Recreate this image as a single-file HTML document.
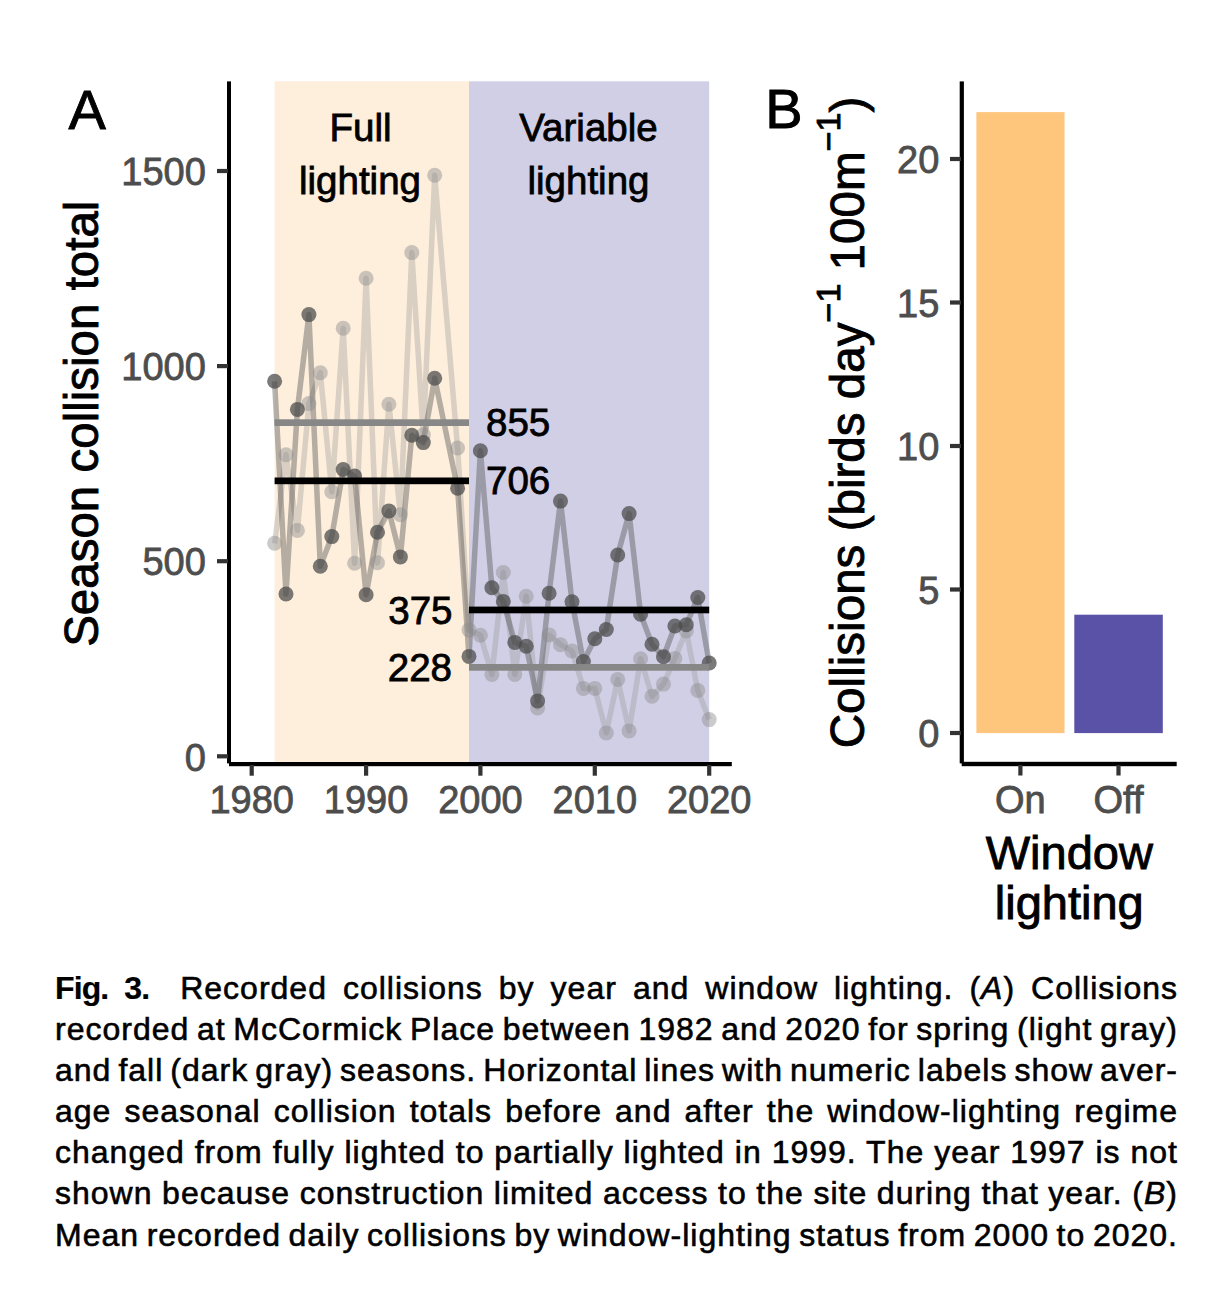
<!DOCTYPE html>
<html><head><meta charset="utf-8"><style>
html,body{margin:0;padding:0;background:#fff;width:1228px;height:1306px;overflow:hidden;}
svg{position:absolute;left:0;top:0;}
text{font-family:"Liberation Sans",sans-serif;}
.tk{font-size:38px;fill:#4D4D4D;stroke:#4D4D4D;stroke-width:0.8px;}
.lb{font-size:38.5px;fill:#000;stroke:#000;stroke-width:0.8px;}
.tag{font-size:56px;fill:#000;stroke:#000;stroke-width:0.9px;}
.ttl{font-size:47px;fill:#000;stroke:#000;stroke-width:0.9px;}
.sup{font-size:34px;}
.cl{position:absolute;left:55px;width:1123px;height:36px;font-family:"Liberation Sans",sans-serif;font-size:32px;line-height:36px;letter-spacing:1px;word-spacing:-4px;-webkit-text-stroke:0.6px #000;color:#000;text-align:justify;text-align-last:justify;white-space:nowrap;}
</style></head><body>
<svg width="1228" height="960" viewBox="0 0 1228 960">
<rect x="274.6" y="81.3" width="194.4" height="682.7" fill="#FEEEDC"/>
<rect x="469.0" y="81.3" width="240.2" height="682.7" fill="#D1CFE6"/>
<polyline points="274.6,543.3 286.0,454.7 297.4,530.4 308.9,403.6 320.3,372.7 331.8,491.7 343.2,328.3 354.6,563.2 366.1,278.3 377.5,562.8 388.9,404.3 400.4,514.8 411.8,252.6 423.3,434.8 434.7,175.3 457.6,448.0 469.0,629.9 480.4,635.3 491.9,674.4 503.3,572.5 514.8,674.4 526.2,596.3 537.6,707.9 549.1,634.9 560.5,644.7 572.0,650.9 583.4,688.4 594.8,688.4 606.3,732.9 617.7,679.4 629.1,730.9 640.6,658.8 652.0,696.2 663.5,684.1 674.9,658.4 686.3,631.0 697.8,690.4 709.2,719.6" fill="none" stroke="rgba(150,150,150,0.35)" stroke-width="5.5" stroke-linejoin="round"/>
<polyline points="274.6,381.3 286.0,594.0 297.4,409.4 308.9,314.6 320.3,566.3 331.8,536.6 343.2,469.5 354.6,476.1 366.1,594.8 377.5,532.3 388.9,510.9 400.4,556.9 411.8,435.2 423.3,442.6 434.7,378.2 457.6,488.2 469.0,656.4 480.4,450.8 491.9,587.7 503.3,601.4 514.8,642.4 526.2,646.3 537.6,700.9 549.1,593.2 560.5,501.1 572.0,601.8 583.4,661.5 594.8,638.8 606.3,629.5 617.7,555.0 629.1,513.6 640.6,614.3 652.0,644.3 663.5,656.8 674.9,626.0 686.3,624.8 697.8,597.5 709.2,663.0" fill="none" stroke="rgba(80,80,80,0.42)" stroke-width="5.5" stroke-linejoin="round"/>
<circle cx="274.6" cy="543.3" r="7.5" fill="rgba(140,140,140,0.45)"/>
<circle cx="286.0" cy="454.7" r="7.5" fill="rgba(140,140,140,0.45)"/>
<circle cx="297.4" cy="530.4" r="7.5" fill="rgba(140,140,140,0.45)"/>
<circle cx="308.9" cy="403.6" r="7.5" fill="rgba(140,140,140,0.45)"/>
<circle cx="320.3" cy="372.7" r="7.5" fill="rgba(140,140,140,0.45)"/>
<circle cx="331.8" cy="491.7" r="7.5" fill="rgba(140,140,140,0.45)"/>
<circle cx="343.2" cy="328.3" r="7.5" fill="rgba(140,140,140,0.45)"/>
<circle cx="354.6" cy="563.2" r="7.5" fill="rgba(140,140,140,0.45)"/>
<circle cx="366.1" cy="278.3" r="7.5" fill="rgba(140,140,140,0.45)"/>
<circle cx="377.5" cy="562.8" r="7.5" fill="rgba(140,140,140,0.45)"/>
<circle cx="388.9" cy="404.3" r="7.5" fill="rgba(140,140,140,0.45)"/>
<circle cx="400.4" cy="514.8" r="7.5" fill="rgba(140,140,140,0.45)"/>
<circle cx="411.8" cy="252.6" r="7.5" fill="rgba(140,140,140,0.45)"/>
<circle cx="423.3" cy="434.8" r="7.5" fill="rgba(140,140,140,0.45)"/>
<circle cx="434.7" cy="175.3" r="7.5" fill="rgba(140,140,140,0.45)"/>
<circle cx="457.6" cy="448.0" r="7.5" fill="rgba(140,140,140,0.45)"/>
<circle cx="469.0" cy="629.9" r="7.5" fill="rgba(140,140,140,0.45)"/>
<circle cx="480.4" cy="635.3" r="7.5" fill="rgba(140,140,140,0.45)"/>
<circle cx="491.9" cy="674.4" r="7.5" fill="rgba(140,140,140,0.45)"/>
<circle cx="503.3" cy="572.5" r="7.5" fill="rgba(140,140,140,0.45)"/>
<circle cx="514.8" cy="674.4" r="7.5" fill="rgba(140,140,140,0.45)"/>
<circle cx="526.2" cy="596.3" r="7.5" fill="rgba(140,140,140,0.45)"/>
<circle cx="537.6" cy="707.9" r="7.5" fill="rgba(140,140,140,0.45)"/>
<circle cx="549.1" cy="634.9" r="7.5" fill="rgba(140,140,140,0.45)"/>
<circle cx="560.5" cy="644.7" r="7.5" fill="rgba(140,140,140,0.45)"/>
<circle cx="572.0" cy="650.9" r="7.5" fill="rgba(140,140,140,0.45)"/>
<circle cx="583.4" cy="688.4" r="7.5" fill="rgba(140,140,140,0.45)"/>
<circle cx="594.8" cy="688.4" r="7.5" fill="rgba(140,140,140,0.45)"/>
<circle cx="606.3" cy="732.9" r="7.5" fill="rgba(140,140,140,0.45)"/>
<circle cx="617.7" cy="679.4" r="7.5" fill="rgba(140,140,140,0.45)"/>
<circle cx="629.1" cy="730.9" r="7.5" fill="rgba(140,140,140,0.45)"/>
<circle cx="640.6" cy="658.8" r="7.5" fill="rgba(140,140,140,0.45)"/>
<circle cx="652.0" cy="696.2" r="7.5" fill="rgba(140,140,140,0.45)"/>
<circle cx="663.5" cy="684.1" r="7.5" fill="rgba(140,140,140,0.45)"/>
<circle cx="674.9" cy="658.4" r="7.5" fill="rgba(140,140,140,0.45)"/>
<circle cx="686.3" cy="631.0" r="7.5" fill="rgba(140,140,140,0.45)"/>
<circle cx="697.8" cy="690.4" r="7.5" fill="rgba(140,140,140,0.45)"/>
<circle cx="709.2" cy="719.6" r="7.5" fill="rgba(140,140,140,0.45)"/>
<circle cx="274.6" cy="381.3" r="7.5" fill="rgba(76,76,76,0.74)"/>
<circle cx="286.0" cy="594.0" r="7.5" fill="rgba(76,76,76,0.74)"/>
<circle cx="297.4" cy="409.4" r="7.5" fill="rgba(76,76,76,0.74)"/>
<circle cx="308.9" cy="314.6" r="7.5" fill="rgba(76,76,76,0.74)"/>
<circle cx="320.3" cy="566.3" r="7.5" fill="rgba(76,76,76,0.74)"/>
<circle cx="331.8" cy="536.6" r="7.5" fill="rgba(76,76,76,0.74)"/>
<circle cx="343.2" cy="469.5" r="7.5" fill="rgba(76,76,76,0.74)"/>
<circle cx="354.6" cy="476.1" r="7.5" fill="rgba(76,76,76,0.74)"/>
<circle cx="366.1" cy="594.8" r="7.5" fill="rgba(76,76,76,0.74)"/>
<circle cx="377.5" cy="532.3" r="7.5" fill="rgba(76,76,76,0.74)"/>
<circle cx="388.9" cy="510.9" r="7.5" fill="rgba(76,76,76,0.74)"/>
<circle cx="400.4" cy="556.9" r="7.5" fill="rgba(76,76,76,0.74)"/>
<circle cx="411.8" cy="435.2" r="7.5" fill="rgba(76,76,76,0.74)"/>
<circle cx="423.3" cy="442.6" r="7.5" fill="rgba(76,76,76,0.74)"/>
<circle cx="434.7" cy="378.2" r="7.5" fill="rgba(76,76,76,0.74)"/>
<circle cx="457.6" cy="488.2" r="7.5" fill="rgba(76,76,76,0.74)"/>
<circle cx="469.0" cy="656.4" r="7.5" fill="rgba(76,76,76,0.74)"/>
<circle cx="480.4" cy="450.8" r="7.5" fill="rgba(76,76,76,0.74)"/>
<circle cx="491.9" cy="587.7" r="7.5" fill="rgba(76,76,76,0.74)"/>
<circle cx="503.3" cy="601.4" r="7.5" fill="rgba(76,76,76,0.74)"/>
<circle cx="514.8" cy="642.4" r="7.5" fill="rgba(76,76,76,0.74)"/>
<circle cx="526.2" cy="646.3" r="7.5" fill="rgba(76,76,76,0.74)"/>
<circle cx="537.6" cy="700.9" r="7.5" fill="rgba(76,76,76,0.74)"/>
<circle cx="549.1" cy="593.2" r="7.5" fill="rgba(76,76,76,0.74)"/>
<circle cx="560.5" cy="501.1" r="7.5" fill="rgba(76,76,76,0.74)"/>
<circle cx="572.0" cy="601.8" r="7.5" fill="rgba(76,76,76,0.74)"/>
<circle cx="583.4" cy="661.5" r="7.5" fill="rgba(76,76,76,0.74)"/>
<circle cx="594.8" cy="638.8" r="7.5" fill="rgba(76,76,76,0.74)"/>
<circle cx="606.3" cy="629.5" r="7.5" fill="rgba(76,76,76,0.74)"/>
<circle cx="617.7" cy="555.0" r="7.5" fill="rgba(76,76,76,0.74)"/>
<circle cx="629.1" cy="513.6" r="7.5" fill="rgba(76,76,76,0.74)"/>
<circle cx="640.6" cy="614.3" r="7.5" fill="rgba(76,76,76,0.74)"/>
<circle cx="652.0" cy="644.3" r="7.5" fill="rgba(76,76,76,0.74)"/>
<circle cx="663.5" cy="656.8" r="7.5" fill="rgba(76,76,76,0.74)"/>
<circle cx="674.9" cy="626.0" r="7.5" fill="rgba(76,76,76,0.74)"/>
<circle cx="686.3" cy="624.8" r="7.5" fill="rgba(76,76,76,0.74)"/>
<circle cx="697.8" cy="597.5" r="7.5" fill="rgba(76,76,76,0.74)"/>
<circle cx="709.2" cy="663.0" r="7.5" fill="rgba(76,76,76,0.74)"/>
<rect x="274.6" y="419.3" width="194.4" height="6.7" fill="#878787"/>
<rect x="274.6" y="477.5" width="194.4" height="6.7" fill="#000"/>
<rect x="469.0" y="606.6" width="240.2" height="6.7" fill="#000"/>
<rect x="469.0" y="664.0" width="240.2" height="6.7" fill="#878787"/>
<rect x="227" y="81.4" width="4" height="682" fill="#000"/>
<rect x="229" y="762" width="502.8" height="4.2" fill="#000"/>
<rect x="217" y="754.2" width="11" height="4.2" fill="#333"/>
<text x="205.8" y="770.5" text-anchor="end" class="tk">0</text>
<rect x="217" y="559.1" width="11" height="4.2" fill="#333"/>
<text x="205.8" y="575.4" text-anchor="end" class="tk">500</text>
<rect x="217" y="364.0" width="11" height="4.2" fill="#333"/>
<text x="205.8" y="380.3" text-anchor="end" class="tk">1000</text>
<rect x="217" y="168.9" width="11" height="4.2" fill="#333"/>
<text x="205.8" y="185.2" text-anchor="end" class="tk">1500</text>
<rect x="249.6" y="765" width="4.2" height="10.7" fill="#333"/>
<text x="251.7" y="813" text-anchor="middle" class="tk">1980</text>
<rect x="364.0" y="765" width="4.2" height="10.7" fill="#333"/>
<text x="366.1" y="813" text-anchor="middle" class="tk">1990</text>
<rect x="478.3" y="765" width="4.2" height="10.7" fill="#333"/>
<text x="480.4" y="813" text-anchor="middle" class="tk">2000</text>
<rect x="592.7" y="765" width="4.2" height="10.7" fill="#333"/>
<text x="594.8" y="813" text-anchor="middle" class="tk">2010</text>
<rect x="707.1" y="765" width="4.2" height="10.7" fill="#333"/>
<text x="709.2" y="813" text-anchor="middle" class="tk">2020</text>
<text x="87.2" y="128.6" text-anchor="middle" class="tag">A</text>
<text x="784.0" y="128.3" text-anchor="middle" class="tag">B</text>
<text x="360.5" y="140.8" text-anchor="middle" class="lb">Full</text>
<text x="360" y="193.8" text-anchor="middle" class="lb">lighting</text>
<text x="588.5" y="141.2" text-anchor="middle" class="lb">Variable</text>
<text x="588.5" y="193.6" text-anchor="middle" class="lb">lighting</text>
<text x="486" y="436.3" class="lb">855</text>
<text x="486" y="493.6" class="lb">706</text>
<text x="452.5" y="623.8" text-anchor="end" class="lb">375</text>
<text x="452" y="681" text-anchor="end" class="lb">228</text>
<text transform="translate(98,423.7) rotate(-90)" text-anchor="middle" class="ttl" style="font-size:47.5px">Season collision total</text>
<rect x="976.4" y="112.1" width="88.1" height="621.0" fill="#FEC67D"/>
<rect x="1074.3" y="614.7" width="88.5" height="118.4" fill="#5952A6"/>
<rect x="959.7" y="81.4" width="4.2" height="682" fill="#000"/>
<rect x="961.7" y="761.8" width="215" height="4.4" fill="#000"/>
<rect x="950" y="730.9" width="11" height="4.2" fill="#333"/>
<text x="939.3" y="747.2" text-anchor="end" class="tk">0</text>
<rect x="950" y="587.4" width="11" height="4.2" fill="#333"/>
<text x="939.3" y="603.7" text-anchor="end" class="tk">5</text>
<rect x="950" y="443.9" width="11" height="4.2" fill="#333"/>
<text x="939.3" y="460.2" text-anchor="end" class="tk">10</text>
<rect x="950" y="300.4" width="11" height="4.2" fill="#333"/>
<text x="939.3" y="316.7" text-anchor="end" class="tk">15</text>
<rect x="950" y="156.9" width="11" height="4.2" fill="#333"/>
<text x="939.3" y="173.2" text-anchor="end" class="tk">20</text>
<rect x="1018.3" y="765" width="4.2" height="10.5" fill="#333"/>
<text x="1020.4" y="813" text-anchor="middle" class="tk">On</text>
<rect x="1116.4" y="765" width="4.2" height="10.5" fill="#333"/>
<text x="1118.5" y="813" text-anchor="middle" class="tk">Off</text>
<text x="1069.3" y="868.8" text-anchor="middle" class="ttl">Window</text>
<text x="1069.3" y="919" text-anchor="middle" class="ttl">lighting</text>
<text transform="translate(864.4,422.5) rotate(-90)" text-anchor="middle" class="ttl" style="font-size:47.6px">Collisions (birds day<tspan dy="-24" class="sup">−1</tspan><tspan dy="24"> 100m</tspan><tspan dy="-24" class="sup">−1</tspan><tspan dy="24">)</tspan></text>
</svg>
<div class="cl" style="top:969.9px"><b style="letter-spacing:-0.9px;-webkit-text-stroke:0.2px #000">Fig.</b><span style="display:inline-block;width:16px"></span><b style="letter-spacing:-0.9px;-webkit-text-stroke:0.2px #000">3.</b><span style="display:inline-block;width:31px"></span>Recorded collisions by year and window lighting. (<i>A</i>) Collisions</div>
<div class="cl" style="top:1011.0px">recorded at McCormick Place between 1982 and 2020 for spring (light gray)</div>
<div class="cl" style="top:1052.1px">and fall (dark gray) seasons. Horizontal lines with numeric labels show aver-</div>
<div class="cl" style="top:1093.2px">age seasonal collision totals before and after the window-lighting regime</div>
<div class="cl" style="top:1134.3px">changed from fully lighted to partially lighted in 1999. The year 1997 is not</div>
<div class="cl" style="top:1175.4px">shown because construction limited access to the site during that year. (<i>B</i>)</div>
<div class="cl" style="top:1216.5px">Mean recorded daily collisions by window-lighting status from 2000 to 2020.</div>
</body></html>
